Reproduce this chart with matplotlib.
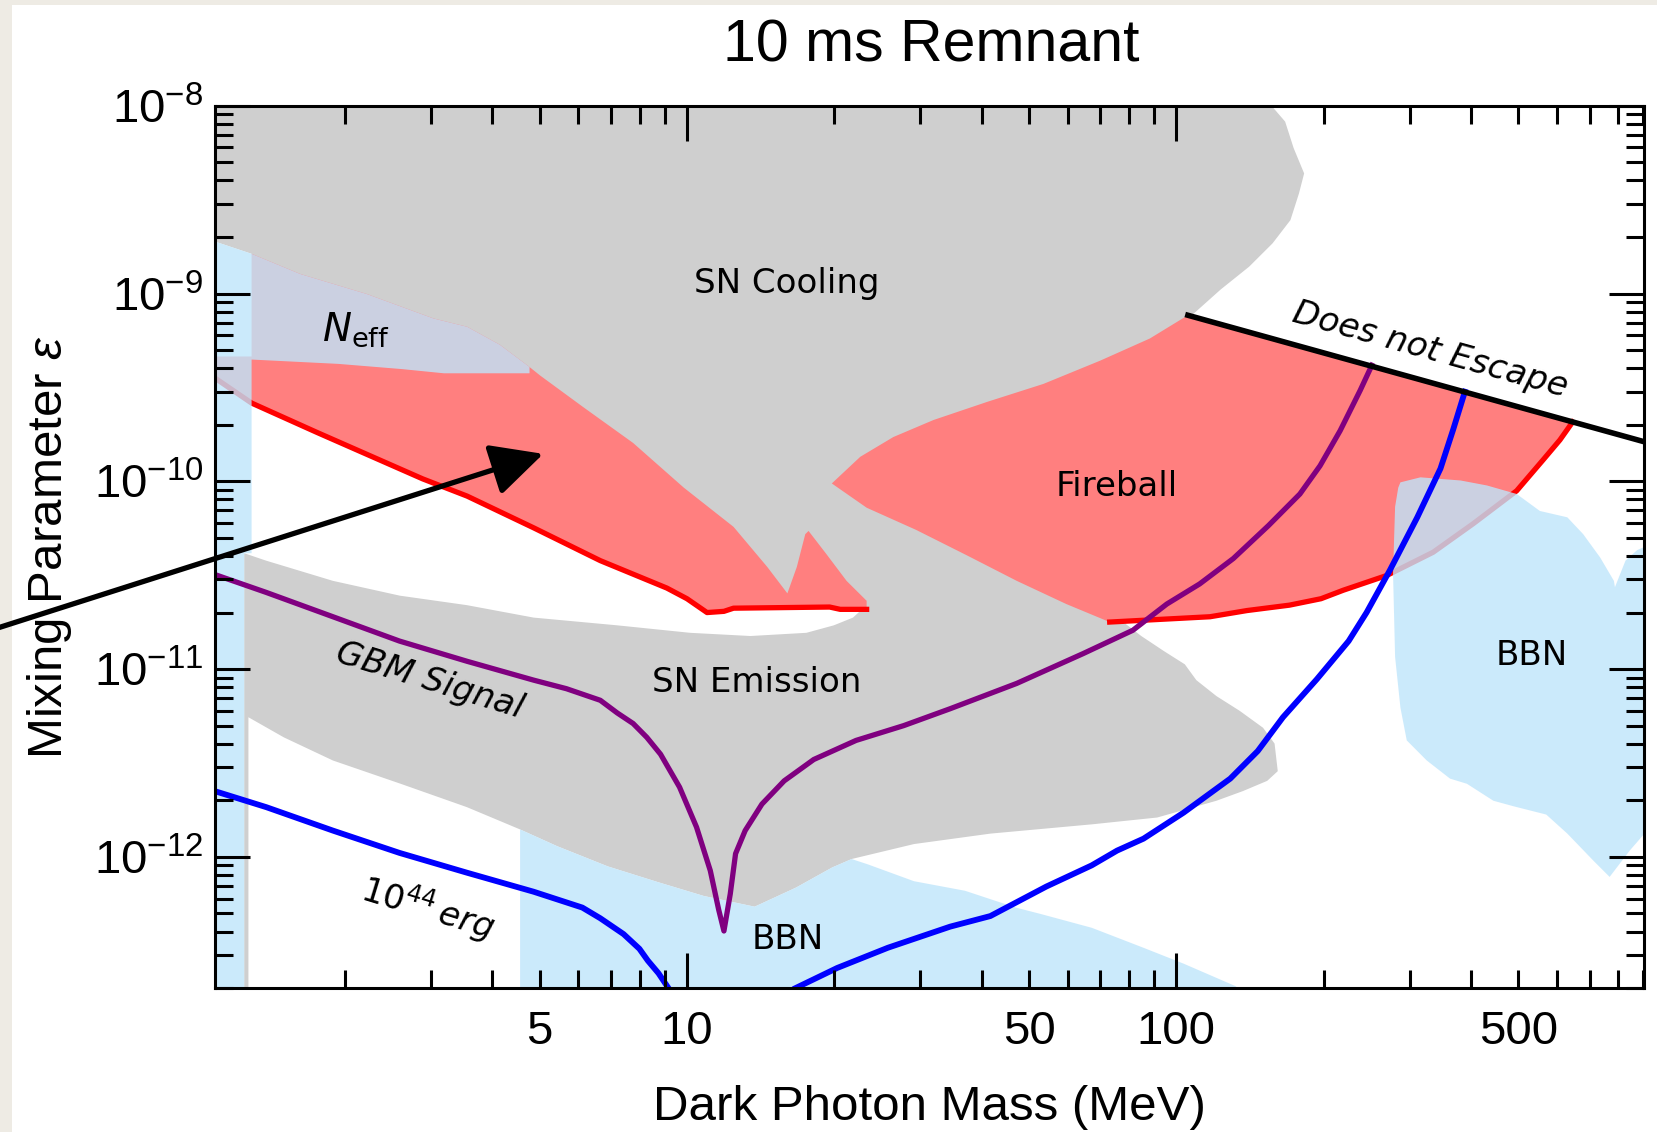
import matplotlib
matplotlib.use("Agg")
import matplotlib.pyplot as plt
from matplotlib.patches import FancyArrowPatch, Polygon, Rectangle
from matplotlib.ticker import LogLocator, NullFormatter

plt.rcParams["font.family"] = ["Liberation Sans", "DejaVu Sans"]
plt.rcParams["mathtext.fontset"] = "custom"
plt.rcParams["mathtext.rm"] = "Liberation Sans"
plt.rcParams["mathtext.it"] = "Liberation Sans:italic"
plt.rcParams["mathtext.bf"] = "Liberation Sans:bold"

# ---- data: (dark photon mass [MeV], mixing parameter) ----

# lower-left edge of the SN cooling region (top of the Neff / fireball band)
cooling_edge = [(1.0, 2.03e-9), (1.095, 1.876e-9), (1.289, 1.627e-9), (1.620, 1.271e-9),
                (2.216, 9.94e-10), (3.031, 7.37e-10), (3.554, 6.65e-10), (4.148, 5.33e-10),
                (4.767, 4.06e-10)]

# SN cooling + SN emission excluded region (grey)
sn_region = [(0.9, 2e-8), (156.5, 2e-8), (156.5, 1.0e-8), (166.9, 8.23e-9), (173.7, 5.95e-9),
             (182.5, 4.36e-9), (178.1, 3.41e-9), (171.1, 2.46e-9), (157.3, 1.85e-9),
             (140.9, 1.39e-9), (123.2, 1.05e-9), (108.8, 7.86e-10), (103.5, 7.0e-10),
             (73.1, 1.83e-11), (78.8, 1.74e-11), (84.8, 1.50e-11), (94.2, 1.25e-11),
             (104.1, 1.06e-11), (109.9, 8.73e-12), (120.8, 7.18e-12), (134.8, 5.99e-12),
             (150.4, 4.87e-12), (158.8, 4.01e-12), (161.2, 2.86e-12), (153.4, 2.54e-12),
             (136.8, 2.24e-12), (120.8, 1.99e-12), (91.4, 1.62e-12), (67.2, 1.49e-12),
             (41.7, 1.33e-12), (29.1, 1.17e-12), (21.7, 9.74e-13), (19.8, 8.78e-13),
             (16.7, 6.86e-13), (13.75, 5.43e-13), (10.83, 6.19e-13), (8.75, 7.32e-13),
             (6.89, 8.90e-13), (5.43, 1.14e-12), (4.56, 1.40e-12), (3.55, 1.84e-12),
             (2.60, 2.45e-12), (1.89, 3.26e-12), (1.50, 4.33e-12), (1.27, 5.54e-12),
             (1.27, 1e-13), (1.245, 1e-13), (1.245, 4.14e-11), (1.38, 3.78e-11),
             (1.89, 2.95e-11), (2.59, 2.46e-11), (3.55, 2.19e-11), (4.86, 1.88e-11),
             (7.20, 1.71e-11), (10.15, 1.56e-11), (13.48, 1.50e-11), (17.54, 1.56e-11),
             (19.96, 1.71e-11), (21.84, 1.88e-11), (23.06, 2.14e-11), (19.1, 2.31e-11),
             (12.45, 2.31e-11), (10.99, 2.19e-11), (9.10, 2.99e-11), (6.65, 4.19e-11),
             (4.86, 6.35e-11), (3.55, 9.37e-11), (2.88, 1.15e-10), (1.75, 2.04e-10),
             (1.302, 2.90e-10), (1.302, 1.43e-9), (1.289, 1.627e-9), (1.095, 1.876e-9),
             (0.9, 2.23e-9)]

# fireball: low-mass lobe, upper edge against SN cooling
fireball_low_edge = [(5.010, 3.66e-10), (6.142, 2.48e-10), (7.762, 1.60e-10), (9.852, 9.25e-11),
                     (12.45, 5.72e-11), (14.59, 3.50e-11), (16.04, 2.53e-11), (16.77, 3.50e-11),
                     (17.45, 5.23e-11), (17.72, 5.44e-11), (19.28, 4.09e-11), (21.19, 2.95e-11),
                     (23.29, 2.31e-11)]
# fireball lower boundary (red line), low-mass lobe
fb_low_m = [1.0, 1.289, 1.754, 2.884, 3.554, 4.862, 6.651, 9.098, 10.0, 10.99, 11.9, 12.45,
            19.57, 20.57, 23.29]
fb_low_eps = [4.1e-10, 2.61e-10, 1.82e-10, 1.03e-10, 8.34e-11, 5.65e-11, 3.78e-11, 2.70e-11,
              2.37e-11, 2.00e-11, 2.03e-11, 2.11e-11, 2.14e-11, 2.08e-11, 2.08e-11]

# fireball: high-mass lobe, left edge against SN cooling / emission
fireball_high_edge = [(105.6, 7.66e-10), (88.3, 5.76e-10), (69.9, 4.39e-10), (53.5, 3.30e-10),
                      (41.1, 2.65e-10), (31.9, 2.12e-10), (26.4, 1.72e-10), (22.6, 1.35e-10),
                      (19.77, 9.74e-11), (23.3, 7.23e-11), (29.4, 5.51e-11), (37.35, 4.03e-11),
                      (47.2, 2.95e-11), (59.6, 2.22e-11)]
fb_high_m = [73.1, 89.2, 117.2, 139.5, 170.3, 197.6, 219.4, 269.1, 334.9, 404.5, 496.1, 561.8,
             608.1, 645.6]
fb_high_eps = [1.78e-11, 1.83e-11, 1.90e-11, 2.05e-11, 2.19e-11, 2.37e-11, 2.63e-11, 3.15e-11,
               4.19e-11, 5.95e-11, 8.90e-11, 1.30e-10, 1.66e-10, 2.07e-10]

# "does not escape" boundary
escape_m = [105.6, 1000.0]
escape_eps = [7.66e-10, 1.51e-10]

# Neff bound and low-mass BBN strip
neff_lower = [(4.767, 3.76e-10), (3.186, 3.76e-10), (2.611, 3.96e-10), (1.938, 4.22e-10),
              (1.289, 4.45e-10), (1.289, 4.14e-11), (1.245, 4.14e-11), (1.245, 1e-13),
              (1.0, 1e-13)]

# BBN regions
bbn_low = [(4.56, 1e-13), (4.56, 1.40e-12), (5.43, 1.14e-12), (6.89, 8.90e-13), (8.75, 7.32e-13),
           (10.83, 6.19e-13), (13.75, 5.43e-13), (16.7, 6.86e-13), (19.8, 8.78e-13),
           (21.7, 9.74e-13), (23.4, 9.13e-13), (29.1, 7.42e-13), (37.0, 6.60e-13),
           (47.0, 5.37e-13), (52.9, 4.96e-13), (67.2, 4.19e-13), (85.7, 3.28e-13),
           (103.5, 2.70e-13), (132.1, 2.05e-13), (143.0, 1.74e-13), (150.0, 1e-13)]
bbn_high = [(287.1, 9.87e-11), (315.5, 1.05e-10), (381.1, 1.01e-10), (431.5, 9.50e-11),
            (496.1, 8.56e-11), (553.4, 6.95e-11), (629.7, 6.43e-11), (678.5, 5.23e-11),
            (734.8, 3.93e-11), (784.0, 2.95e-11), (787.8, 2.73e-11), (827.9, 3.78e-11),
            (874.5, 4.30e-11), (905.2, 4.47e-11), (1000.0, 4.6e-11), (1000.0, 1.3e-12),
            (905.2, 1.33e-12), (844.6, 1.08e-12), (768.4, 7.82e-13), (713.1, 9.50e-13),
            (629.7, 1.33e-12), (570.2, 1.68e-12), (488.7, 1.86e-12), (444.6, 1.99e-12),
            (392.6, 2.45e-12), (362.6, 2.61e-12), (325.0, 3.26e-12), (295.8, 4.17e-12),
            (287.1, 6.23e-12), (280.0, 1.16e-11), (277.3, 3.24e-11), (280.0, 7.32e-11),
            (284.2, 9.25e-11)]

# GBM signal curve
gbm_m = [1.0, 1.381, 1.890, 2.585, 3.554, 4.862, 5.673, 6.651, 7.203, 7.762, 8.278, 8.831,
         9.658, 10.46, 11.16, 11.61, 11.90, 12.26, 12.57, 13.15, 14.23, 15.80, 18.16, 22.16,
         27.73, 34.50, 47.20, 64.55, 81.53, 95.63, 111.6, 130.8, 154.2, 178.9, 196.7, 216.2,
         237.6, 251.0]
gbm_eps = [3.43e-11, 2.56e-11, 1.90e-11, 1.41e-11, 1.10e-11, 8.73e-12, 7.86e-12, 6.82e-12,
           5.84e-12, 5.13e-12, 4.33e-12, 3.52e-12, 2.35e-12, 1.44e-12, 8.45e-13, 5.23e-13,
           4.03e-13, 6.35e-13, 1.04e-12, 1.38e-12, 1.91e-12, 2.54e-12, 3.30e-12, 4.17e-12,
           5.00e-12, 6.15e-12, 8.39e-12, 1.21e-11, 1.61e-11, 2.22e-11, 2.84e-11, 3.88e-11,
           5.80e-11, 8.56e-11, 1.21e-10, 1.86e-10, 3.05e-10, 4.15e-10]

# 10^44 erg contour (two branches)
erg_left_m = [1.0, 1.381, 1.890, 2.585, 3.554, 4.862, 6.112, 6.651, 7.420, 7.994, 8.320, 8.746,
              9.190, 9.42]
erg_left_eps = [2.39e-12, 1.84e-12, 1.38e-12, 1.05e-12, 8.23e-13, 6.52e-13, 5.37e-13, 4.71e-13,
                3.88e-13, 3.24e-13, 2.80e-13, 2.40e-13, 1.98e-13, 1.74e-13]
erg_right_m = [16.04, 16.53, 20.27, 25.73, 34.50, 41.69, 54.25, 67.17, 75.68, 85.70, 103.5,
               128.9, 146.7, 165.2, 193.8, 225.0, 244.8, 273.2, 310.8, 346.7, 368.1, 388.8]
erg_right_eps = [1.74e-13, 1.98e-13, 2.56e-13, 3.28e-13, 4.25e-13, 4.84e-13, 6.95e-13, 9.01e-13,
                 1.08e-12, 1.25e-12, 1.72e-12, 2.61e-12, 3.66e-12, 5.54e-12, 8.84e-12, 1.41e-11,
                 2.00e-11, 3.36e-11, 6.43e-11, 1.17e-10, 1.89e-10, 3.0e-10]

# arrow pointing into the low-mass fireball lobe
arrow_tail = (0.3, 1.33e-11)
arrow_tip = (5.085, 1.40e-10)

y_major = [1e-12, 1e-11, 1e-10, 1e-9, 1e-8]
x_minor_labels = {5: "5", 50: "50", 500: "500"}

GRAY = "#CFCFCF"
RED_FILL = "#FF7F7F"
RED = "#FF0000"
BBN_BLUE = (191 / 255, 229 / 255, 251 / 255)
PURPLE = "#800080"
BLUE = "#0000FF"

fig = plt.figure(figsize=(16.57, 11.32), dpi=100)
ax = fig.add_axes([0.1295, 0.1271, 0.8629, 0.7795])
ax.set_xscale("log")
ax.set_yscale("log")
ax.set_xlim(1.083, 905)
ax.set_ylim(2e-13, 1e-8)

# regions
ax.add_patch(Polygon(sn_region, closed=True, facecolor=GRAY, edgecolor="none", zorder=1.0))

fb_low_poly = ([(1.0, 4.62e-10), (1.289, 4.62e-10)] + cooling_edge[2:] + fireball_low_edge
               + list(zip(fb_low_m, fb_low_eps))[::-1])
ax.add_patch(Polygon(fb_low_poly, closed=True, facecolor=RED_FILL, edgecolor="none", zorder=1.1))
fb_high_poly = fireball_high_edge + list(zip(fb_high_m, fb_high_eps))
ax.add_patch(Polygon(fb_high_poly, closed=True, facecolor=RED_FILL, edgecolor="none", zorder=1.1))
ax.plot(fb_low_m, fb_low_eps, color=RED, lw=3.8, zorder=1.2)
ax.plot(fb_high_m, fb_high_eps, color=RED, lw=3.8, zorder=1.2)

for poly in (cooling_edge + neff_lower, bbn_low, bbn_high):
    ax.add_patch(Polygon(poly, closed=True, facecolor=BBN_BLUE, alpha=0.8,
                         edgecolor="none", zorder=1.3))

# curves
ax.plot(gbm_m, gbm_eps, color=PURPLE, lw=3.8, zorder=1.4)
ax.plot(erg_left_m, erg_left_eps, color=BLUE, lw=4.2, zorder=1.4)
ax.plot(erg_right_m, erg_right_eps, color=BLUE, lw=4.2, zorder=1.4)
ax.plot(escape_m, escape_eps, color="black", lw=4.0, zorder=1.45)

# region labels
lab = dict(fontfamily="DejaVu Sans", fontsize=24.5, ha="center", va="center", zorder=3)
ax.text(15.96, 1.131e-9, "SN Cooling", **lab)
ax.text(75.7, 9.37e-11, "Fireball", **lab)
ax.text(13.88, 8.5e-12, "SN Emission", **lab)
ax.text(16.04, 3.64e-13, "BBN", **lab)
ax.text(531.8, 1.18e-11, "BBN", **lab)
ax.text(2.987, 8.73e-12, "GBM Signal", style="italic", rotation=-17, **lab)
ax.text(329.9, 4.99e-10, "Does not Escape", style="italic", rotation=-15.5, **lab)
ax.text(2.109, 6.39e-10, r"$N_{\mathrm{eff}}$", math_fontfamily="dejavusans",
        fontsize=28, ha="center", va="center", zorder=3)
ax.text(2.957, 5.37e-13, r"$\mathit{10^{44}}\,\mathit{erg}$", math_fontfamily="dejavusans",
        fontsize=24.5, rotation=-17, ha="center", va="center", zorder=3)

ax.add_patch(FancyArrowPatch(arrow_tail, arrow_tip,
                             arrowstyle="-|>,head_length=0.4,head_width=0.2",
                             mutation_scale=80, lw=3.8, color="black",
                             shrinkA=0, shrinkB=0, clip_on=False, zorder=5))

# axes styling
ax.set_xticks([10, 100], labels=["10", "100"])
minor_x = [m * d for d in (1, 10, 100) for m in range(2, 10)]
ax.set_xticks(minor_x, labels=[x_minor_labels.get(v, "") for v in minor_x], minor=True)
ax.set_yticks(y_major)
ax.yaxis.set_minor_locator(LogLocator(base=10, subs=range(2, 10), numticks=20))
ax.yaxis.set_minor_formatter(NullFormatter())

ax.set_axisbelow(False)
ax.tick_params(which="both", direction="in", top=True, right=True, width=2.2,
               color="black", labelsize=34)
ax.tick_params(which="major", length=25)
ax.tick_params(which="minor", length=13)
ax.tick_params(axis="x", which="both", pad=16)
ax.tick_params(axis="y", which="both", pad=8)
for sp in ax.spines.values():
    sp.set_linewidth(2.2)
    sp.set_zorder(4)

ax.set_xlabel("Dark Photon Mass (MeV)", fontsize=35.5, labelpad=22)
ax.set_ylabel(r"Mixing Parameter $\varepsilon$", fontsize=35.5, labelpad=14)
fig.text(0.5619, 0.9461, "10 ms Remnant", ha="center", va="baseline", fontsize=42.5)

fig.patches.extend([
    Rectangle((0, 0), 12 / 1657, 1, transform=fig.transFigure, facecolor="#EEEBE4",
              edgecolor="none", zorder=-1),
    Rectangle((0, 1 - 5 / 1132), 1, 5 / 1132, transform=fig.transFigure, facecolor="#EEEBE4",
              edgecolor="none", zorder=-1),
])

fig.savefig("out.png", dpi=100)
